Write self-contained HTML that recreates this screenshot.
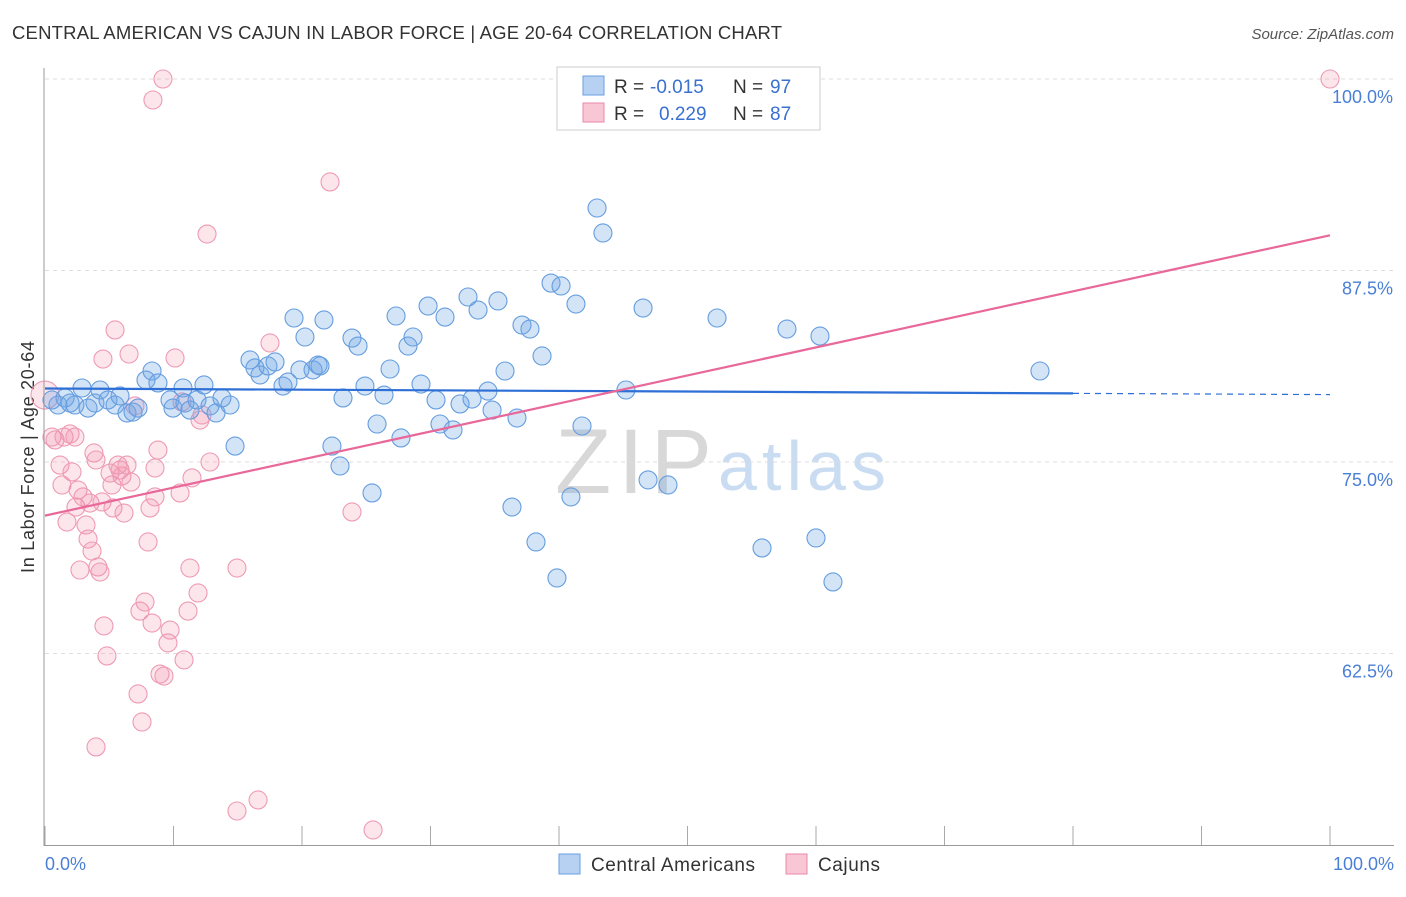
<!DOCTYPE html>
<html><head><meta charset="utf-8"><style>
body{margin:0;background:#fff;font-family:"Liberation Sans",sans-serif;}
svg text{font-family:"Liberation Sans",sans-serif;}
</style></head><body>
<svg id="c" width="1406" height="892">
<text x="12" y="39" font-size="18.5" fill="#333" textLength="770">CENTRAL AMERICAN VS CAJUN IN LABOR FORCE | AGE 20-64 CORRELATION CHART</text>
<text x="1394" y="39" font-size="15" fill="#555" font-style="italic" text-anchor="end">Source: ZipAtlas.com</text>
<text x="34" y="457" font-size="18" fill="#333" text-anchor="middle" textLength="232" transform="rotate(-90 34 457)">In Labor Force | Age 20-64</text>
<text x="555" y="493" font-size="92" fill="#d8d8d8" font-family="Liberation Serif" textLength="157">ZIP</text>
<text x="718" y="490" font-size="70" fill="#c9dcf2" textLength="168">atlas</text>
<g id="grid"></g><g id="pts"></g><g id="lines"></g>
<line x1="44" y1="68" x2="44" y2="846" stroke="#999"/>
<line x1="44" y1="845.5" x2="1394" y2="845.5" stroke="#999"/>
<text x="45" y="870" font-size="18" fill="#4a7fd6">0.0%</text>
<text x="1394" y="870" font-size="18" fill="#4a7fd6" text-anchor="end">100.0%</text>
<g>
<rect x="557" y="67" width="263" height="63" fill="#fff" stroke="#ccc"/>
<rect x="583" y="76" width="21" height="19" fill="#b7d1f3" stroke="#6a9fe0"/>
<rect x="583" y="103" width="21" height="19" fill="#f9c6d5" stroke="#e98aa8"/>
<text x="614" y="93" font-size="19" fill="#333">R =</text>
<text x="650" y="93" font-size="19" fill="#3a70d0">-0.015</text>
<text x="733" y="93" font-size="19" fill="#333">N =</text>
<text x="770" y="93" font-size="19" fill="#3a70d0">97</text>
<text x="614" y="120" font-size="19" fill="#333">R =</text>
<text x="659" y="120" font-size="19" fill="#3a70d0">0.229</text>
<text x="733" y="120" font-size="19" fill="#333">N =</text>
<text x="770" y="120" font-size="19" fill="#3a70d0">87</text>
</g>
<g>
<rect x="559" y="854" width="21" height="20" fill="#b7d1f3" stroke="#6a9fe0"/>
<text x="591" y="871" font-size="19" fill="#333" textLength="164">Central Americans</text>
<rect x="786" y="854" width="21" height="20" fill="#f9c6d5" stroke="#e98aa8"/>
<text x="818" y="871" font-size="19" fill="#333" textLength="62">Cajuns</text>
</g>
</svg>
<script>
const yTicks=[100,87.5,75,62.5];
const xTicks=[0,10,20,30,40,50,60,70,80,90,100];
const bluePx=[[52,400],[58,405],[65,398],[70,403],[75,405],[82,388],[88,408],[95,403],[100,390],[108,400],[115,405],[120,396],[127,413],[133,412],[138,408],[146,380],[152,371],[158,383],[170,400],[173,408],[183,388],[185,403],[190,410],[197,400],[204,385],[210,406],[216,413],[222,398],[230,405],[235,446],[250,360],[255,368],[260,375],[268,366],[275,362],[283,386],[288,382],[294,318],[300,370],[305,337],[313,370],[318,365],[320,366],[324,320],[332,446],[340,466],[343,398],[352,338],[358,346],[365,386],[372,493],[377,424],[384,395],[390,369],[396,316],[401,438],[408,346],[413,337],[421,384],[428,306],[436,400],[440,424],[445,317],[453,430],[460,404],[468,297],[472,399],[478,310],[488,391],[492,410],[498,301],[505,371],[512,507],[517,418],[522,325],[530,329],[536,542],[542,356],[551,283],[557,578],[561,286],[571,497],[576,304],[582,426],[597,208],[603,233],[626,390],[643,308],[648,480],[668,485],[717,318],[762,548],[787,329],[816,538],[820,336],[833,582],[1040,371]];
const pinkPx=[[45,395],[52,437],[55,440],[60,465],[62,485],[64,437],[67,522],[70,434],[72,472],[75,437],[76,507],[78,490],[80,570],[83,497],[86,525],[88,539],[90,503],[92,551],[94,453],[96,460],[96,747],[98,567],[100,572],[102,502],[103,359],[104,626],[107,656],[110,473],[112,485],[113,508],[115,330],[118,465],[120,470],[122,476],[124,513],[127,465],[129,354],[131,482],[135,406],[138,694],[140,611],[142,722],[145,602],[148,542],[150,508],[152,623],[153,100],[155,468],[155,497],[158,450],[160,674],[163,79],[164,676],[168,643],[170,630],[175,358],[180,493],[182,402],[184,660],[188,611],[190,568],[192,478],[198,593],[200,420],[202,415],[207,234],[210,462],[237,568],[237,811],[258,800],[270,343],[330,182],[352,512],[373,830],[1330,79]];
const blueX=bluePx.map(p=>+((p[0]-45)/12.85).toFixed(2));
const blueY=bluePx.map(p=>+(100-(p[1]-79)*12.5/191.5).toFixed(2));
const pinkX=pinkPx.map(p=>+((p[0]-45)/12.85).toFixed(2));
const pinkY=pinkPx.map(p=>+(100-(p[1]-79)*12.5/191.5).toFixed(2));
const blueTrend=[79.8,79.4];
const pinkTrend=[71.5,89.8];
const NS='http://www.w3.org/2000/svg';
const sx=v=>45+v*12.85, sy=v=>79+(100-v)*191.5/12.5;
function mk(t,a,p){const e=document.createElementNS(NS,t);for(const k in a)e.setAttribute(k,a[k]);p.appendChild(e);return e;}
const grid=document.getElementById('grid');
yTicks.forEach(v=>{
 const l=mk('line',{x1:45,x2:1394,y1:sy(v),y2:sy(v),stroke:'#ddd','stroke-dasharray':'4,4'},grid);
 
 
 const t=mk('text',{x:1393,y:sy(v)+24,'font-size':18,fill:'#4a7fd6','text-anchor':'end'},grid);
 t.textContent=v.toFixed(1)+'%';
 
 
});
xTicks.forEach(v=>{
 const l=mk('line',{x1:sx(v),x2:sx(v),y1:826,y2:845,stroke:'#aaa'},grid);
 
 
});
const pts=document.getElementById('pts');
pinkX.forEach((x,i)=>{
 const c=mk('circle',{cx:sx(x),cy:sy(pinkY[i]),r:i==0?14:9,fill:'rgba(240,140,170,0.22)',stroke:'#ee9ab4','stroke-width':1.1},pts);
 
 
});
blueX.forEach((x,i)=>{
 const c=mk('circle',{cx:sx(x),cy:sy(blueY[i]),r:9,fill:'rgba(110,165,230,0.3)',stroke:'#659ddf','stroke-width':1.1},pts);
 
 
});
const lines=document.getElementById('lines');
const by=x=>blueTrend[0]+(blueTrend[1]-blueTrend[0])*x/100;
let b=mk('line',{x1:sx(0),y1:sy(by(0)),x2:sx(80),y2:sy(by(80)),stroke:'#2d6fd6','stroke-width':2.2},lines);


let bd=mk('line',{x1:sx(80),y1:sy(by(80)),x2:sx(100),y2:sy(by(100)),stroke:'#2d6fd6','stroke-width':1.2,'stroke-dasharray':'6,5'},lines);


let p=mk('line',{x1:sx(0),y1:sy(pinkTrend[0]),x2:sx(100),y2:sy(pinkTrend[1]),stroke:'#e8689a','stroke-width':2.2},lines);


</script>
</body></html>
